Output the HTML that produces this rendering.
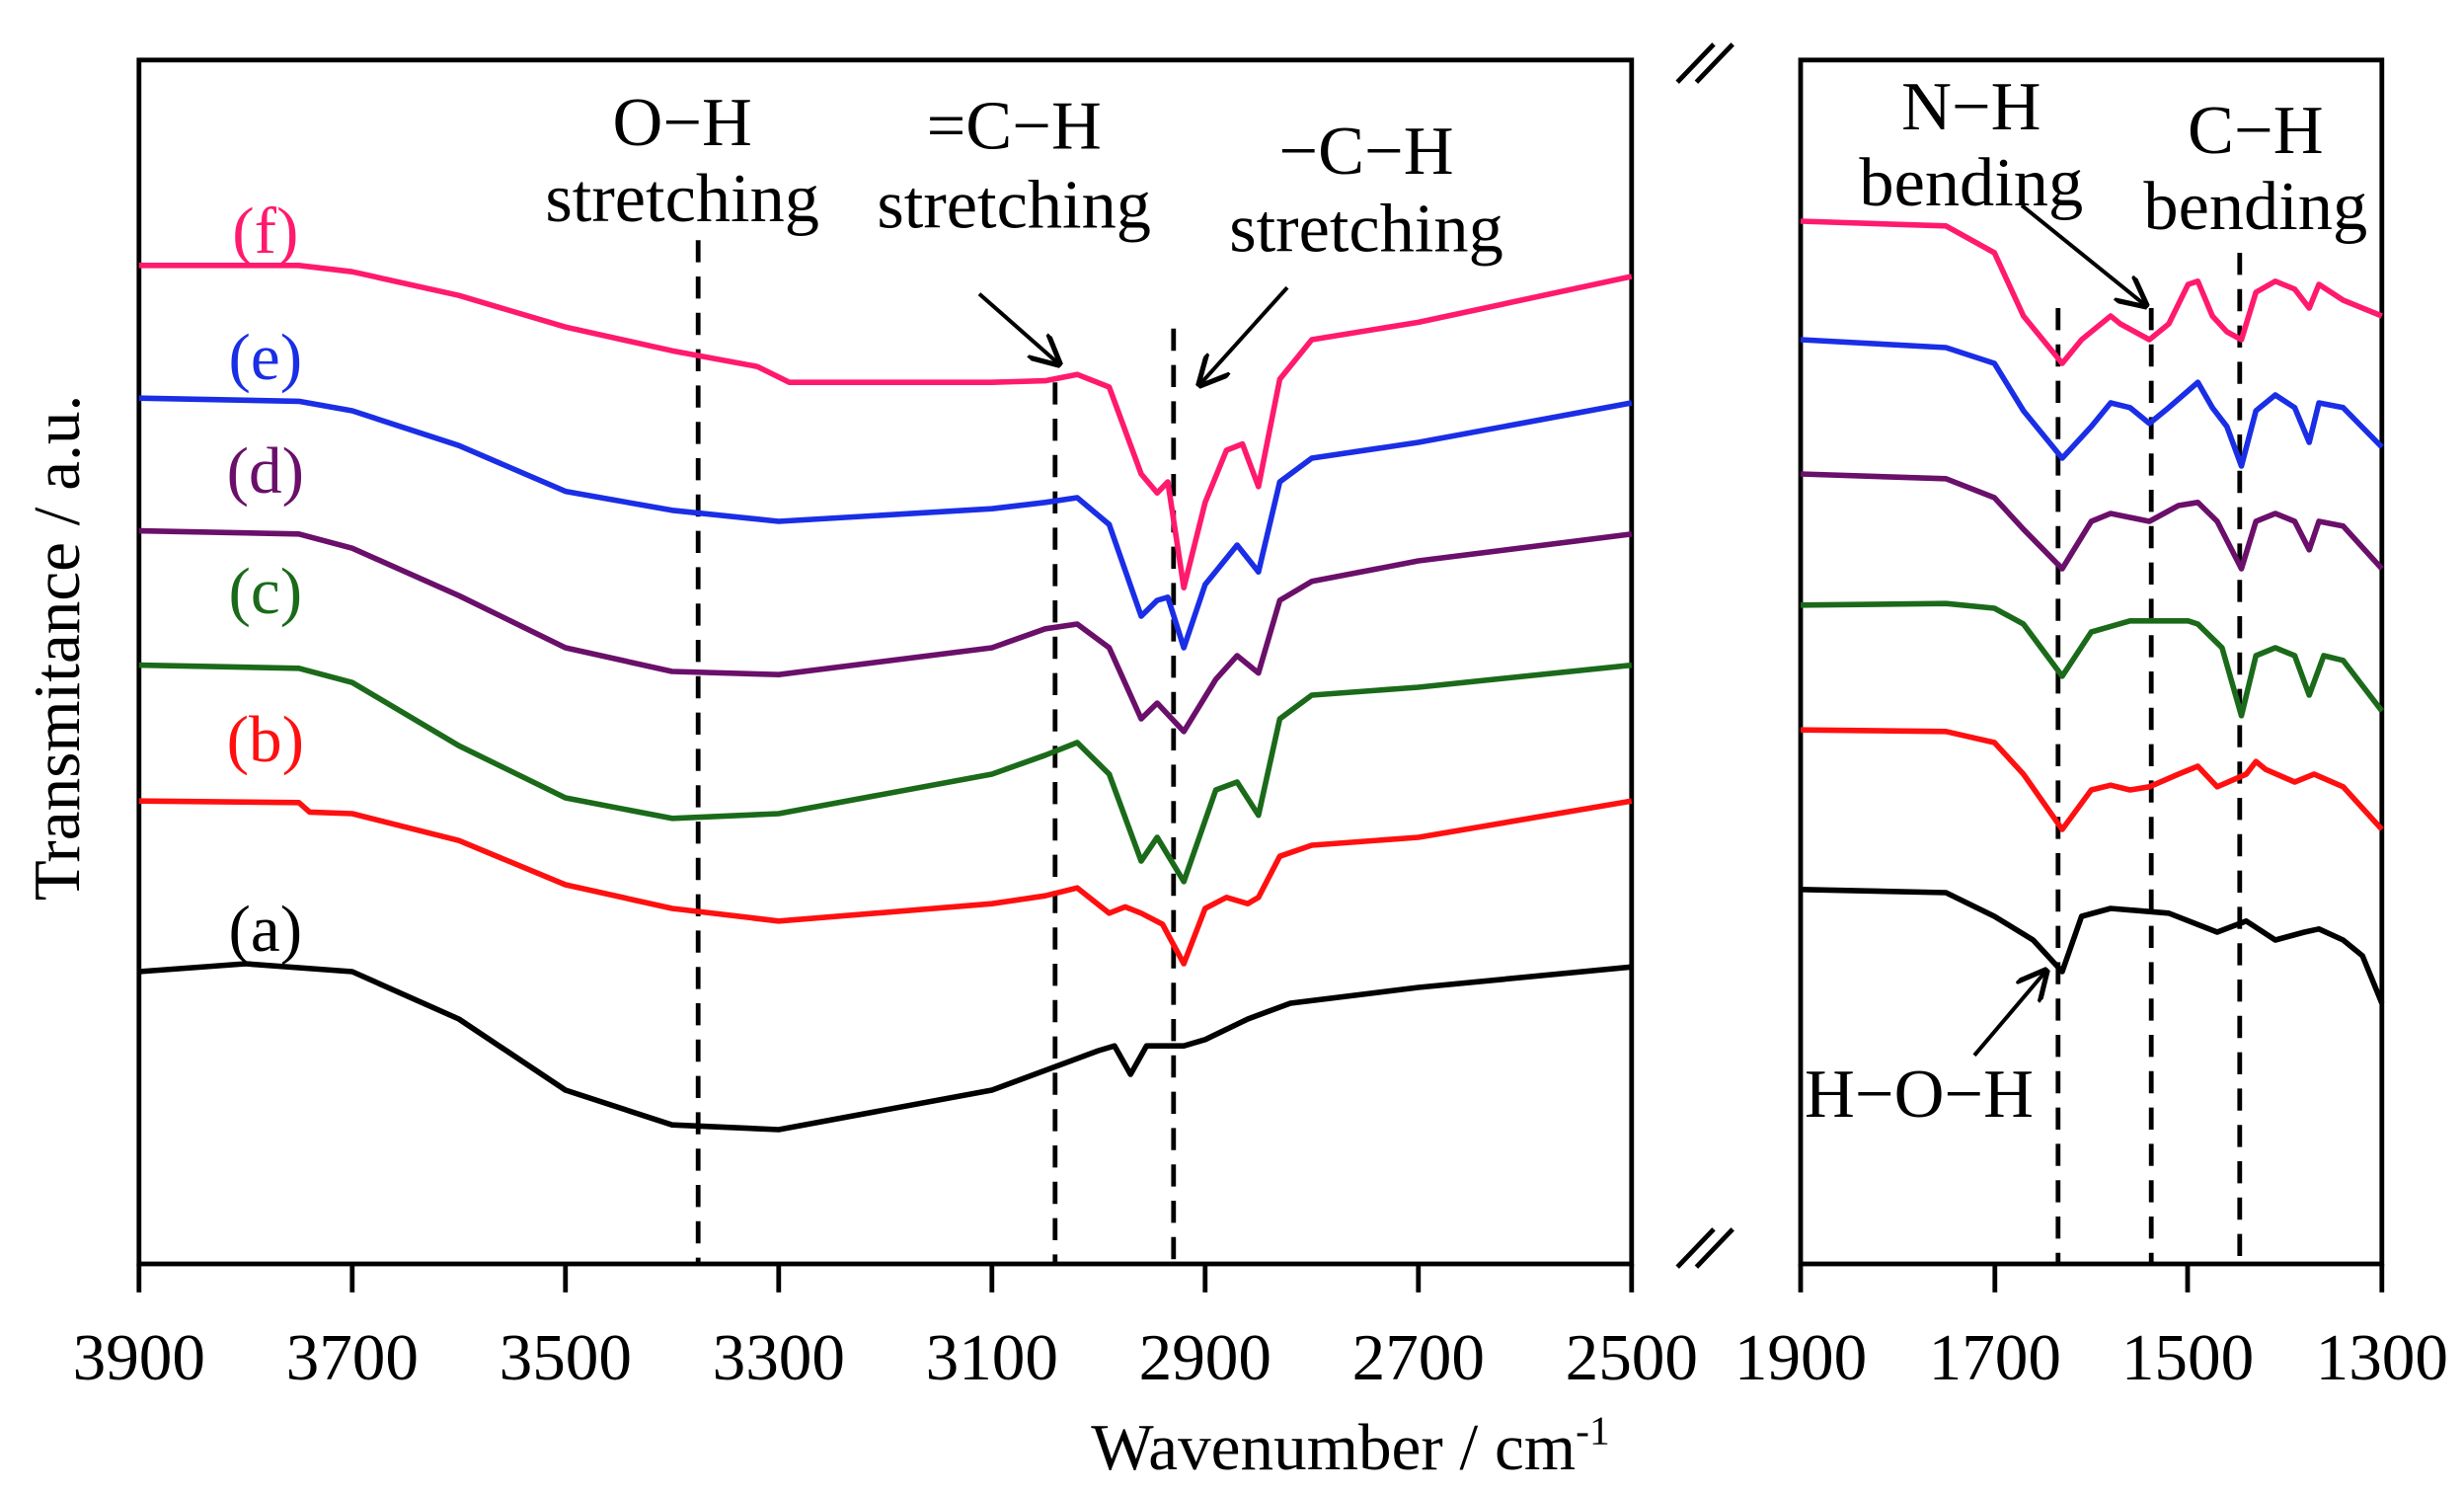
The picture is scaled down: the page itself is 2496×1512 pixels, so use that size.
<!DOCTYPE html>
<html><head><meta charset="utf-8"><style>
html,body{margin:0;padding:0;background:#fff;}
svg{display:block;}
text{font-family:"Liberation Serif",serif;}
</style></head><body>
<svg width="2496" height="1512" viewBox="0 0 1560 945" xmlns="http://www.w3.org/2000/svg">
<rect width="1560" height="945" fill="#fff"/>
<rect x="88" y="38" width="945" height="762" fill="none" stroke="#000" stroke-width="3"/>
<rect x="1140" y="38" width="368" height="762" fill="none" stroke="#000" stroke-width="3"/>
<g stroke="#000" stroke-width="3">
<line x1="88" y1="800" x2="88" y2="818"/><line x1="223" y1="800" x2="223" y2="818"/><line x1="358" y1="800" x2="358" y2="818"/><line x1="493" y1="800" x2="493" y2="818"/><line x1="628" y1="800" x2="628" y2="818"/><line x1="763" y1="800" x2="763" y2="818"/><line x1="898" y1="800" x2="898" y2="818"/><line x1="1033" y1="800" x2="1033" y2="818"/>
<line x1="1140" y1="800" x2="1140" y2="818"/><line x1="1263" y1="800" x2="1263" y2="818"/><line x1="1385" y1="800" x2="1385" y2="818"/><line x1="1508" y1="800" x2="1508" y2="818"/>
</g>
<g stroke="#000" stroke-width="3">
<line x1="1062" y1="52" x2="1085" y2="28"/><line x1="1074" y1="52" x2="1097" y2="28"/>
<line x1="1062" y1="802" x2="1085" y2="778"/><line x1="1074" y1="802" x2="1097" y2="778"/>
</g>
<g font-size="42" text-anchor="middle" fill="#000">
<text x="88" y="873">3900</text><text x="223" y="873">3700</text><text x="358" y="873">3500</text><text x="493" y="873">3300</text><text x="628" y="873">3100</text><text x="763" y="873">2900</text><text x="898" y="873">2700</text><text x="1033" y="873">2500</text>
<text x="1140" y="873">1900</text><text x="1263" y="873">1700</text><text x="1385" y="873">1500</text><text x="1508" y="873">1300</text>
<text x="855" y="930">Wavenumber / cm<tspan font-size="26" dy="-16">-1</tspan></text>
<text transform="translate(50,410) rotate(-90)">Transmitance / a.u.</text>
</g>
<g stroke="#000" stroke-width="3" stroke-dasharray="14,9">
<line x1="442" y1="152" x2="442" y2="800"/><line x1="668" y1="242" x2="668" y2="800"/><line x1="743" y1="208" x2="743" y2="800"/>
<line x1="1303" y1="195" x2="1303" y2="800"/><line x1="1362" y1="195" x2="1362" y2="800"/><line x1="1418" y1="160" x2="1418" y2="800"/>
</g>
<g transform="translate(2720.5,0) scale(-0.675,1)" fill="none" stroke-width="5.6" stroke-linejoin="round">
<polyline vector-effect="non-scaling-stroke" stroke="#ff1a6e" points="3900,168 3750,168 3700,172 3600,187 3500,207 3400,222 3320,232 3290,242 3100,242 3050,241 3020,237 2990,245 2960,300 2945,312 2935,305 2920,372 2900,318 2880,285 2865,281 2850,308 2830,240 2800,215 2700,204 2500,175"/>
<polyline vector-effect="non-scaling-stroke" stroke="#1a2ee6" points="3900,252 3750,254 3700,260 3600,282 3500,311 3400,323 3300,330 3100,322 3050,318 3020,315 2990,332 2960,390 2945,380 2935,378 2920,410 2900,370 2870,345 2850,362 2830,305 2800,290 2700,280 2500,255"/>
<polyline vector-effect="non-scaling-stroke" stroke="#6a0f6a" points="3900,336 3750,338 3700,347 3600,377 3500,410 3400,425 3300,427 3100,410 3050,398 3020,395 2990,410 2960,455 2945,445 2920,463 2890,430 2870,415 2850,426 2830,380 2800,368 2700,355 2500,338"/>
<polyline vector-effect="non-scaling-stroke" stroke="#1a6a1a" points="3900,421 3750,423 3700,432 3600,472 3500,505 3400,518 3300,515 3100,490 3050,478 3020,470 2990,490 2960,545 2945,530 2920,558 2890,500 2870,495 2850,516 2830,455 2800,440 2700,435 2500,421"/>
<polyline vector-effect="non-scaling-stroke" stroke="#ff1010" points="3900,507 3750,508 3740,514 3700,515 3600,532 3500,560 3400,575 3300,583 3100,572 3050,567 3020,562 2990,578 2975,574 2960,578 2940,585 2920,610 2900,575 2880,568 2860,572 2850,568 2830,542 2800,535 2700,530 2500,507"/>
<polyline vector-effect="non-scaling-stroke" stroke="#000" points="3900,615 3800,610 3700,615 3600,645 3500,690 3400,712 3300,715 3100,690 3000,665 2985,662 2970,680 2955,662 2920,662 2900,658 2860,645 2820,635 2700,625 2500,612"/>
</g>
<g transform="translate(2305.3,0) scale(-0.6133,1)" fill="none" stroke-width="5.6" stroke-linejoin="round">
<polyline vector-effect="non-scaling-stroke" stroke="#ff1a6e" points="1900,140 1750,143 1700,160 1670,200 1630,230 1610,215 1580,200 1570,205 1540,215 1520,205 1500,180 1490,178 1475,200 1460,210 1445,215 1430,185 1410,178 1390,183 1375,195 1365,180 1340,190 1300,200"/>
<polyline vector-effect="non-scaling-stroke" stroke="#1a2ee6" points="1900,215 1750,220 1700,230 1670,260 1630,290 1600,270 1580,255 1560,258 1540,268 1520,258 1490,242 1475,258 1460,270 1445,295 1430,260 1410,250 1390,258 1375,280 1365,255 1340,258 1300,283"/>
<polyline vector-effect="non-scaling-stroke" stroke="#6a0f6a" points="1900,300 1750,303 1700,315 1670,335 1630,360 1600,330 1580,325 1540,330 1510,320 1490,318 1470,330 1445,360 1430,330 1410,325 1390,330 1375,348 1365,330 1340,333 1300,360"/>
<polyline vector-effect="non-scaling-stroke" stroke="#1a6a1a" points="1900,383 1750,382 1700,385 1670,395 1630,428 1600,400 1560,393 1500,393 1490,395 1465,410 1445,453 1430,415 1410,410 1390,415 1375,440 1360,415 1340,418 1300,450"/>
<polyline vector-effect="non-scaling-stroke" stroke="#ff1010" points="1900,462 1750,463 1700,470 1670,490 1630,525 1600,500 1580,497 1560,500 1540,498 1510,490 1490,485 1470,498 1440,490 1430,482 1420,487 1390,495 1370,490 1340,498 1300,525"/>
<polyline vector-effect="non-scaling-stroke" stroke="#000" points="1900,563 1750,565 1700,580 1660,595 1630,615 1610,580 1580,575 1520,578 1470,590 1440,583 1410,595 1380,590 1365,588 1340,595 1320,605 1300,635"/>
</g>
<g font-size="42" text-anchor="middle">
<text x="168" y="160" fill="#ff1a6e">(f)</text>
<text x="168" y="240" fill="#1a2ee6">(e)</text>
<text x="168" y="312" fill="#6a0f6a">(d)</text>
<text x="168" y="388" fill="#1a6a1a">(c)</text>
<text x="168" y="482" fill="#ff1010">(b)</text>
<text x="168" y="602" fill="#000">(a)</text>
</g>
<g font-size="44" text-anchor="middle">
<text x="432" y="92">O−H</text><text x="432" y="140">stretching</text>
<text x="642" y="94">=C−H</text><text x="642" y="144">stretching</text>
<text x="865" y="110">−C−H</text><text x="865" y="159">stretching</text>
<text x="1248" y="82">N−H</text><text x="1248" y="130">bending</text>
<text x="1428" y="97">C−H</text><text x="1428" y="145">bending</text>
<text x="1215" y="707">H−O−H</text>
</g>
<defs><marker id="ah" markerWidth="8" markerHeight="8" refX="7" refY="4" orient="auto" markerUnits="strokeWidth"><path d="M0,0 L8,4 L0,8" fill="none" stroke="#000" stroke-width="1.3"/></marker></defs>
<g stroke="#000" stroke-width="2.5" fill="none" marker-end="url(#ah)">
<line x1="620" y1="186" x2="670" y2="230"/>
<line x1="815" y1="182" x2="760" y2="243"/>
<line x1="1280" y1="130" x2="1358" y2="193"/>
<line x1="1250" y1="668" x2="1295" y2="615"/>
</g>
</svg>
</body></html>
